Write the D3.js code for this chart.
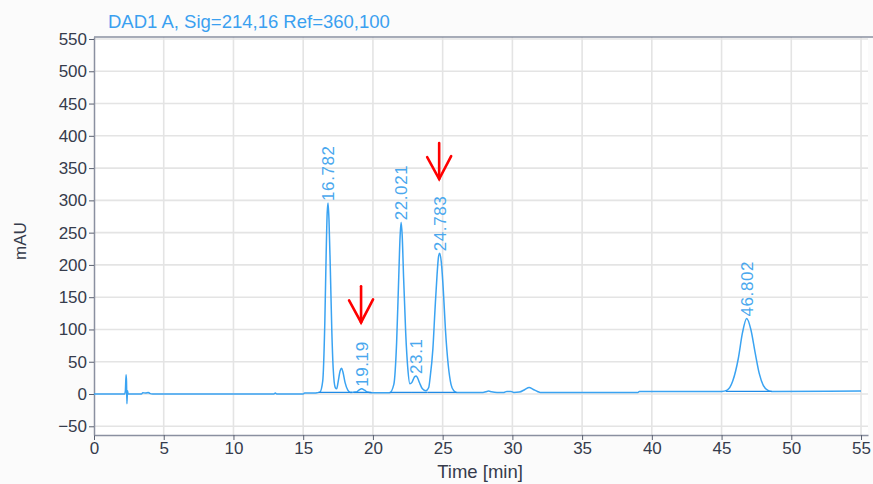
<!DOCTYPE html>
<html>
<head>
<meta charset="utf-8">
<script src="https://cdn.jsdelivr.net/npm/d3@7"></script>
<style>
  html, body { margin: 0; padding: 0; background: #fbfbfb; }
  svg { display: block; font-family: "Liberation Sans", Arial, sans-serif; }
</style>
</head>
<body>
<svg id="chart" width="873" height="484"></svg>
<script>
// Detector signal: retention time (min) and absorbance (mAU)
const timeMin = [
  0, 2.2, 2.25, 2.3, 2.33, 2.36, 2.4, 2.45,
  3.4, 3.5, 3.7, 3.9, 4.0, 4.2,
  12.9, 13.0, 13.1,
  15.0, 15.1, 15.8, 16.0,
  16.2, 16.4, 16.55, 16.65, 16.72, 16.782, 16.85, 16.95, 17.05, 17.15, 17.3, 17.4,
  17.5, 17.65, 17.75, 17.85, 18.0, 18.2, 18.4,
  18.8, 19.0, 19.19, 19.4, 19.6, 19.9,
  21.2, 21.5, 21.7, 21.85, 21.95, 22.021, 22.1, 22.2, 22.35, 22.5, 22.65, 22.8,
  22.9, 23.0, 23.1, 23.2, 23.35, 23.55, 23.8, 24.0,
  24.1, 24.3, 24.45, 24.6, 24.7, 24.783, 24.9, 25.05, 25.2, 25.4, 25.6, 25.8, 26.0,
  27.9, 28.1, 28.3, 28.5, 28.9, 29.4, 29.6, 29.9, 30.1, 30.5, 30.9, 31.2, 31.5, 31.8, 32.0,
  39.0, 39.1, 41.0, 45.0, 45.4, 45.8, 46.2, 46.5, 46.802, 47.1, 47.4, 47.7, 48.0, 48.3, 48.6, 55.0
];
const signalMau = [
  0, 0, 5, 30, 20, -15, 5, 0,
  0, 2, 1.5, 2.5, 1, 0,
  0, 1.5, 0,
  0, 1.5, 1.5, 2,
  3, 20, 110, 220, 280, 296, 270, 190, 100, 40, 10, 8,
  18, 36, 40, 34, 18, 6, 2.5,
  3, 6, 8, 6, 3, 2,
  2, 15, 80, 180, 245, 266, 245, 180, 95, 40, 16, 18,
  23, 27, 28, 25, 17, 8, 5, 10,
  25, 70, 130, 185, 212, 218, 205, 160, 100, 45, 15, 5, 2.5,
  2.5, 3.5, 4.5, 3.5, 2.5, 2.5, 4, 4, 2.5, 3, 7, 10, 7, 4, 2.5,
  2.5, 4, 4, 4, 6, 20, 55, 95, 117, 100, 65, 32, 13, 6, 4, 4.5
];

// Integrated peaks: apex time, apex height, label
const peakTimes   = [16.782, 19.19, 22.021, 23.1, 24.783, 46.802];
const peakHeights = [296, 8, 266, 28, 218, 117];
const peakLabels  = ["16.782", "19.19", "22.021", "23.1", "24.783", "46.802"];

// Integration baselines under the peaks: [start, end] in minutes, level in mAU
const baseStart = [16.1, 18.6, 21.2, 22.8, 23.9, 45.3];
const baseEnd   = [18.5, 19.9, 22.8, 23.9, 26.0, 48.6];
const baseLevel = [2.5, 2.5, 2.5, 2.5, 2.5, 4];

// Markers pointing at the peaks of interest (tip time, tip mAU)
const arrowTimes = [19.15, 24.75];
const arrowMau   = [111, 333];

const xTicks = d3.range(0, 56, 5);
const yTicks = d3.range(-50, 551, 50);

const svg = d3.select("#chart");
const plotL = 94, plotR = 868, plotT = 37, plotB = 435;

const x = d3.scaleLinear().domain([0, 55.5]).range([plotL, plotR]);
const y = d3.scaleLinear().domain([-63.5, 553.1]).range([plotB, plotT]);

// plot background
svg.append("rect").attr("x", plotL).attr("y", plotT)
  .attr("width", plotR - plotL).attr("height", plotB - plotT).attr("fill", "#ffffff");

// grid
const grid = svg.append("g").attr("stroke", "#e4e4e4").attr("stroke-width", 1.6);
grid.selectAll("line.v").data(xTicks.filter(d => d > 0)).join("line").attr("class", "v")
  .attr("x1", d => x(d)).attr("x2", d => x(d)).attr("y1", plotT).attr("y2", plotB);
grid.selectAll("line.h").data(yTicks).join("line").attr("class", "h")
  .attr("x1", plotL).attr("x2", plotR).attr("y1", d => y(d)).attr("y2", d => y(d));

// axes
const axisColor = "#8a90a0";
const xAxis = svg.append("g").attr("transform", `translate(0,${plotB})`)
  .call(d3.axisBottom(x).tickValues(xTicks).tickSize(5).tickPadding(2).tickSizeOuter(0));
const yAxis = svg.append("g").attr("transform", `translate(${plotL},0)`)
  .call(d3.axisLeft(y).tickValues(yTicks).tickSize(5).tickPadding(2).tickSizeOuter(0));
[xAxis, yAxis].forEach(g => {
  g.select(".domain").attr("stroke", axisColor).attr("stroke-width", 1.5);
  g.selectAll(".tick line").attr("stroke", "#5a6070");
  g.selectAll(".tick text").attr("fill", "#363c4c")
    .style("font-size", "17px").style("font-family", "'Liberation Sans', Arial, sans-serif");
});
// top frame
svg.append("line").attr("x1", plotL).attr("x2", 873).attr("y1", plotT).attr("y2", plotT)
  .attr("stroke", axisColor).attr("stroke-width", 1.5);

// axis titles
svg.append("text").attr("x", 480).attr("y", 478).attr("text-anchor", "middle")
  .attr("fill", "#363c4c").style("font-size", "18.5px").text("Time [min]");
svg.append("text").attr("transform", "translate(26,241) rotate(-90)")
  .attr("text-anchor", "middle").attr("fill", "#363c4c").style("font-size", "17px").text("mAU");

// signal title
svg.append("text").attr("x", 108).attr("y", 28).attr("fill", "#3aa0f0")
  .style("font-size", "18.5px").text("DAD1 A, Sig=214,16 Ref=360,100");

// trace
const pts = timeMin.map((t, i) => [t, signalMau[i]]);
const line = d3.line().x(d => x(d[0])).y(d => y(d[1])).curve(d3.curveMonotoneX);
svg.append("path").datum(pts).attr("d", line)
  .attr("fill", "none").attr("stroke", "#3aa3f2").attr("stroke-width", 1.5);

// integration baselines
svg.append("g").selectAll("line").data(baseStart).join("line")
  .attr("x1", d => x(d)).attr("x2", (d, i) => x(baseEnd[i]))
  .attr("y1", (d, i) => y(baseLevel[i])).attr("y2", (d, i) => y(baseLevel[i]))
  .attr("stroke", "#1f8ae6").attr("stroke-width", 1.3);

// peak retention-time labels
svg.append("g").selectAll("text").data(peakTimes).join("text")
  .attr("transform", (d, i) => `translate(${x(d) + 6},${y(peakHeights[i]) - 2}) rotate(-90)`)
  .attr("fill", "#4aa8ee").style("font-size", "17px").style("letter-spacing", "0.6px")
  .text((d, i) => peakLabels[i]);

// red arrows
const arrows = svg.append("g").attr("stroke", "#ff0000").attr("stroke-width", 2.6)
  .attr("fill", "none").attr("stroke-linecap", "round");
arrowTimes.forEach((t, i) => {
  const tx = x(t), ty = y(arrowMau[i]);
  arrows.append("path").attr("d", `M${tx},${ty - 36}L${tx},${ty}`);
  arrows.append("path").attr("d", `M${tx - 12},${ty - 22}L${tx},${ty}L${tx + 12},${ty - 23}`);
});
</script>
</body>
</html>
